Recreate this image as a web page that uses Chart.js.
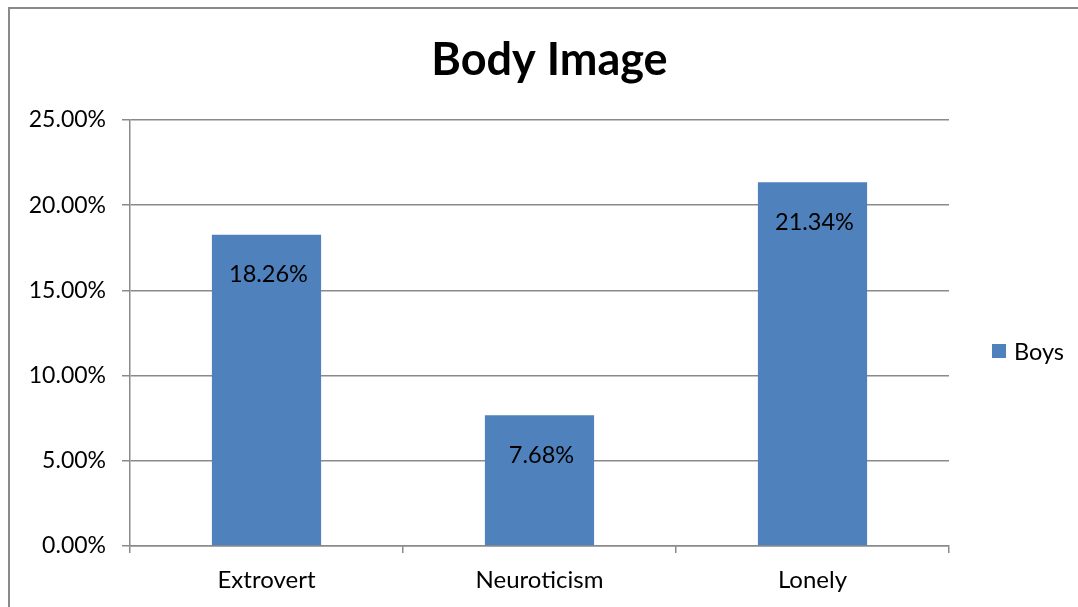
<!DOCTYPE html>
<html>
<head>
<meta charset="utf-8">
<title>Body Image</title>
<script src="https://cdn.jsdelivr.net/npm/chart.js@4"></script>
<style>
  html, body { margin: 0; padding: 0; background: #fff; overflow: hidden; }
  #wrap { position: relative; width: 1078px; height: 607px; }
  #frame {
    position: absolute; left: 8px; top: 7px; width: 1200px; height: 700px;
    border-left: 2px solid #8a8a8a; border-top: 2px solid #8a8a8a;
    box-sizing: border-box; pointer-events: none;
  }
  canvas { position: absolute; left: 0; top: 0; }
</style>
</head>
<body>
<div id="wrap">
  <canvas id="chart" width="1078" height="607"></canvas>
  <div id="frame"></div>
</div>
<script>
// Chart content
const chartTitle = 'Body Image';
const categories = ['Extrovert', 'Neuroticism', 'Lonely'];
const seriesName = 'Boys';
const boysValues = [18.26, 7.68, 21.34];
const yTicks = [0, 5, 10, 15, 20, 25];

const BAR_BLUE = '#4F81BD';
const AXIS_GRAY = '#8a8a8a';
const FONT = 'Lato, "Open Sans", sans-serif';

const fmtPct = v => v.toFixed(2) + '%';

// Title, legend and in-bar value labels
const decorations = {
  id: 'decorations',
  afterDatasetsDraw(chart) {
    const ctx = chart.ctx;
    ctx.save();
    // value labels inside the bars, just under the top edge
    const meta = chart.getDatasetMeta(0);
    ctx.font = '23.5px ' + FONT;
    ctx.fillStyle = '#000';
    ctx.textAlign = 'center';
    ctx.textBaseline = 'middle';
    meta.data.forEach((bar, i) => {
      ctx.fillText(fmtPct(chart.data.datasets[0].data[i]), bar.x + 2, bar.y + 40);
    });
    ctx.restore();
  },
  afterDraw(chart) {
    const ctx = chart.ctx;
    ctx.save();
    // title
    ctx.font = 'bold 45px ' + FONT;
    ctx.fillStyle = '#000';
    ctx.textAlign = 'center';
    ctx.textBaseline = 'middle';
    ctx.fillText(chartTitle, 549.5, 60);
    // legend
    ctx.fillStyle = BAR_BLUE;
    ctx.fillRect(992, 344, 14, 14);
    ctx.fillStyle = '#000';
    ctx.font = '23.5px ' + FONT;
    ctx.textAlign = 'left';
    ctx.fillText(seriesName, 1014, 352);
    ctx.restore();
  }
};

new Chart(document.getElementById('chart'), {
  type: 'bar',
  data: {
    labels: categories,
    datasets: [{
      label: seriesName,
      data: boysValues,
      backgroundColor: BAR_BLUE,
      borderWidth: 0,
      categoryPercentage: 1,
      barPercentage: 0.4
    }]
  },
  options: {
    responsive: false,
    animation: false,
    events: [],
    layout: { padding: { left: 0, right: 129, top: 120, bottom: 0 } },
    plugins: {
      legend: { display: false },
      title: { display: false },
      tooltip: { enabled: false }
    },
    scales: {
      x: {
        afterFit(scale) { scale.height = 61; },
        grid: {
          drawOnChartArea: false,
          drawTicks: true,
          tickLength: 7,
          color: AXIS_GRAY,
          lineWidth: 1.5
        },
        border: { color: AXIS_GRAY, width: 1.5 },
        ticks: {
          color: '#000',
          font: { family: FONT, size: 24 },
          padding: 13
        }
      },
      y: {
        min: 0,
        max: 25,
        afterFit(scale) { scale.width = 130; },
        afterBuildTicks(scale) { scale.ticks = yTicks.map(v => ({ value: v })); },
        grid: {
          color: AXIS_GRAY,
          lineWidth: 1.5,
          tickLength: 8
        },
        border: { color: AXIS_GRAY, width: 1.5 },
        ticks: {
          color: '#000',
          font: { family: FONT, size: 23 },
          padding: 16,
          callback: v => fmtPct(v)
        }
      }
    }
  },
  plugins: [decorations]
});
</script>
</body>
</html>
